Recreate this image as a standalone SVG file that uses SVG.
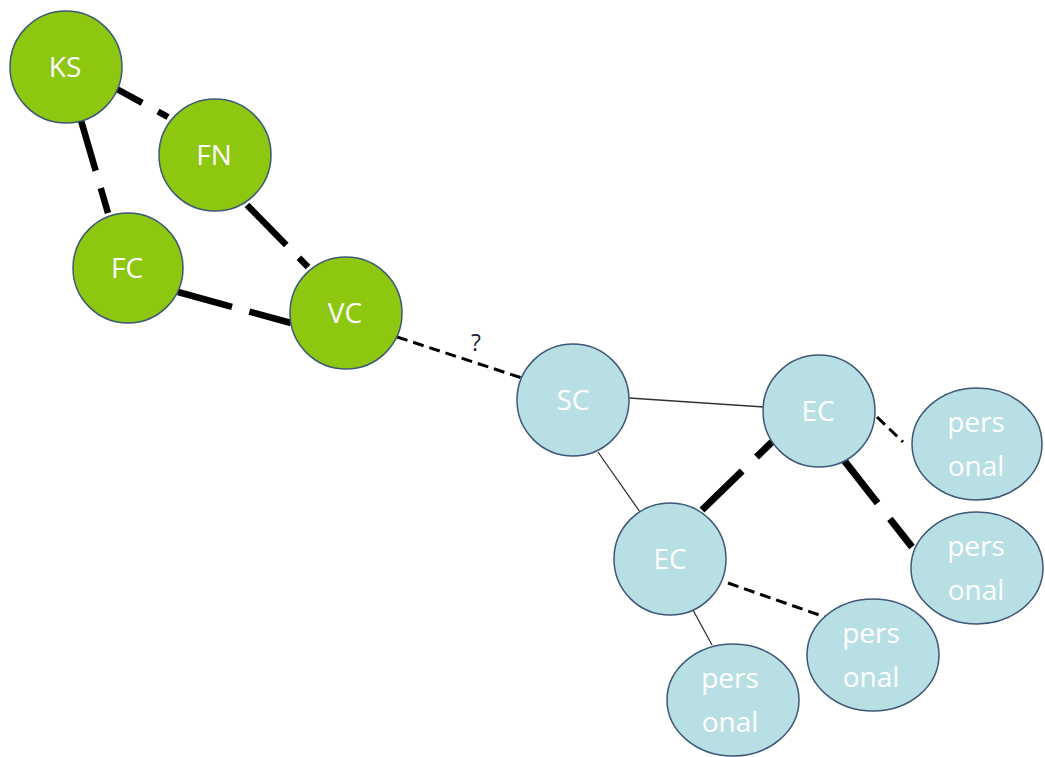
<svg xmlns="http://www.w3.org/2000/svg" width="1045" height="757" viewBox="0 0 1045 757">
<style>
.g{fill:#8DC70F;stroke:#3E5878;stroke-width:1.5}
.b{fill:#B8DFE3;stroke:#3E5878;stroke-width:1.5}
.t{font-family:"Open Sans","Noto Sans",sans-serif;font-size:28px;fill:#fff;text-anchor:middle}
.p{font-family:"Open Sans","Noto Sans",sans-serif;font-size:28px;fill:#fff;text-anchor:middle}
.thick{stroke:#000;stroke-width:6.5;stroke-dasharray:56 18;fill:none}
.thick2{stroke:#000;stroke-width:7;stroke-dasharray:56 20;fill:none}
.thin{stroke:#333;stroke-width:1.3;fill:none}
.dash{stroke:#000;stroke-width:3;stroke-dasharray:11 6;fill:none}
</style>
<rect width="1045" height="757" fill="#fff"/>
<g id="connectors">
<line class="thick" x1="115" y1="88" x2="168" y2="117" stroke-dashoffset="25"/>
<line class="thick" x1="80" y1="117" x2="108" y2="213"/>
<line class="thick" x1="247" y1="205" x2="308" y2="267"/>
<line class="thick" x1="178" y1="292" x2="291" y2="323"/>
<line class="dash" x1="397" y1="337" x2="522" y2="378"/>
<line class="thin" x1="629" y1="398" x2="764" y2="407"/>
<line class="thin" x1="598" y1="452" x2="640" y2="512"/>
<line class="thick2" x1="702" y1="510" x2="772" y2="442"/>
<line class="thick2" x1="843" y1="459" x2="912" y2="547"/>
<line class="dash" x1="877" y1="417" x2="903" y2="442"/>
<line class="dash" x1="728" y1="583" x2="825" y2="617"/>
<line class="thin" x1="693" y1="610" x2="712" y2="645"/>
</g>
<text x="476" y="351" font-family="Open Sans, Noto Sans, sans-serif" font-size="23" fill="#1F2538" text-anchor="middle">?</text>
<g id="KS"><circle class="g" cx="66" cy="67" r="56"/><text class="t" x="65" y="77">KS</text></g>
<g id="FN"><circle class="g" cx="215" cy="155" r="56"/><text class="t" x="214" y="165">FN</text></g>
<g id="FC"><circle class="g" cx="128" cy="268" r="55"/><text class="t" x="127" y="278">FC</text></g>
<g id="VC"><circle class="g" cx="346" cy="313" r="56"/><text class="t" x="345" y="323">VC</text></g>
<g id="SC"><circle class="b" cx="573" cy="400" r="56"/><text class="t" x="573" y="410">SC</text></g>
<g id="EC1"><circle class="b" cx="819" cy="411" r="56"/><text class="t" x="818" y="421">EC</text></g>
<g id="EC2"><circle class="b" cx="670" cy="559" r="56"/><text class="t" x="670" y="569">EC</text></g>
<g id="personalA"><ellipse class="b" cx="977" cy="444" rx="65" ry="56"/><text class="p" x="976" y="432">pers</text><text class="p" x="976" y="476">onal</text></g>
<g id="personalB"><ellipse class="b" cx="977" cy="568" rx="66" ry="56"/><text class="p" x="976" y="556">pers</text><text class="p" x="976" y="600">onal</text></g>
<g id="personalC"><ellipse class="b" cx="873" cy="655" rx="66" ry="56"/><text class="p" x="871" y="643">pers</text><text class="p" x="871" y="687">onal</text></g>
<g id="personalD"><ellipse class="b" cx="733" cy="700" rx="66" ry="56"/><text class="p" x="730" y="688">pers</text><text class="p" x="730" y="732">onal</text></g>
</svg>
